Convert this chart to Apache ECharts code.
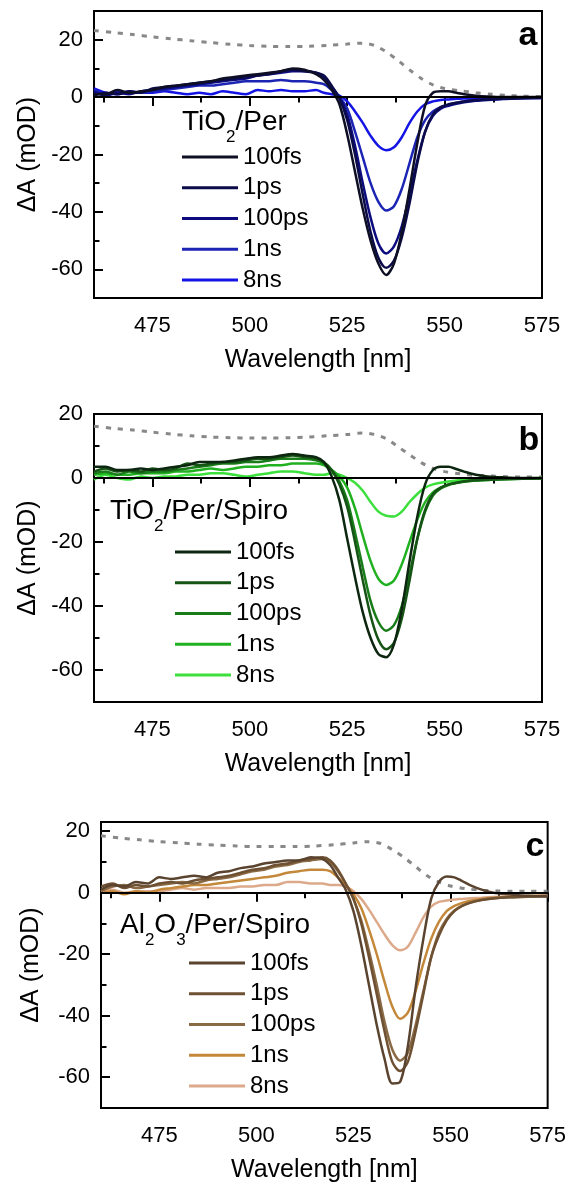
<!DOCTYPE html>
<html>
<head>
<meta charset="utf-8">
<script src="https://cdn.jsdelivr.net/npm/echarts@6/dist/echarts.min.js"></script>
<style>
  html, body { margin: 0; padding: 0; background: #fff; }
  #app { width: 569px; height: 1186px; }
</style>
</head>
<body>
<div id="app"></div>
<script>
// shared wavelength grid (nm) for the transient spectra
const wl = [460, 463, 466, 469, 472, 475, 478, 481, 484, 487, 490, 493, 496, 499, 502, 505, 508, 511, 514, 517,
  519, 521, 523, 525, 527, 529, 531, 533, 535, 537, 539, 541, 543, 545, 547, 549, 551, 553, 555, 558, 561, 565, 570, 575];
// wavelength grid for the dotted (steady state) curves
const dotWl = [460, 465, 470, 475, 480, 485, 490, 495, 500, 505, 510, 515, 520, 525, 529, 532, 535, 538, 541, 544,
  547, 550, 554, 558, 562, 566, 570, 575];

const delays = ['100fs', '1ps', '100ps', '1ns', '8ns'];
const xTicks = [475, 500, 525, 550, 575];
const xMinorTicks = [462.5, 487.5, 512.5, 537.5, 562.5];
const yTicks = [-60, -40, -20, 0, 20];
const yMinorTicks = [-50, -30, -10, 10];

// a) TiO2/Per
const aFs100 = [1, 1, 2.5, 1.5, 2, 2.5, 3.5, 4, 4.5, 5, 5.5, 6.5, 7, 7.5, 8, 8.5, 9, 10, 9.5, 8,
  6, 2.5, -2.5, -13, -26, -39, -50, -58, -62, -58, -47, -32, -16, -3, 1.5, 2, 2, 1.5, 1, 0.5, 0.2, 0, 0, 0];
const aPs1 = [0.5, 1.5, 1, 2, 1.5, 3, 3.5, 4, 4.5, 5, 5.5, 6, 6.5, 7, 7.5, 8, 9, 9.5, 9, 8.5,
  7.5, 4, -0.5, -8, -20, -34, -47, -56, -59.5, -57, -49, -37, -23, -12, -6, -3.5, -2.5, -2, -1.5, -1, -0.8, -0.5, -0.3, -0.2];
const aPs100 = [2, 0.5, 1.5, 1, 2, 2.5, 3, 3.5, 4, 4.5, 5, 5.5, 6, 6.5, 7.5, 8, 8.5, 9, 9, 8.5,
  7, 3.5, 0, -6, -17, -30, -42, -51, -54.5, -52, -45, -34, -22, -12, -6.5, -4, -3, -2.3, -1.8, -1.3, -1, -0.7, -0.4, -0.3];
const aNs1 = [2.5, 1, 2, 1.5, 1.5, 2, 2.5, 3, 3.5, 4, 4, 4.5, 5, 5.5, 5.5, 5.5, 6, 5.5, 5.5, 5,
  4.5, 2.5, 0, -4, -12, -21, -30, -36.5, -39.5, -38, -32, -23, -14, -8, -5, -3.5, -2.7, -2, -1.5, -1.1, -0.8, -0.6, -0.4, -0.3];
const aNs8 = [3, 1.5, 1, 2, 1.5, 1.5, 2, 1.5, 1, 1.5, 1, 2, 1.5, 1, 2.5, 2, 2.5, 2, 2, 2.5,
  1.5, 1, 0.5, -1.5, -5, -9, -13.5, -17, -18.5, -17.5, -14, -9, -5, -2.5, -1.5, -1, -0.8, -0.6, -0.5, -0.4, -0.3, -0.2, -0.2, -0.1];
const aDot = [23.2, 22.5, 21.8, 21, 20.3, 19.6, 19, 18.4, 18, 17.7, 17.6, 17.7, 18, 18.5, 18.8, 18, 15.8, 12.8, 9.5, 6.5,
  4.3, 3, 2.2, 1.5, 1, 0.6, 0.3, 0.2];

// b) TiO2/Per/Spiro
const bFs100 = [3.5, 3.5, 2.5, 2.5, 3, 2.5, 3, 3.5, 4, 5, 5, 5, 5.5, 6, 6.5, 6.5, 7, 7.5, 7, 6.5,
  5, 0.5, -7, -19, -31, -42, -50, -55, -56, -52, -41, -26, -12, -2, 2.5, 3.5, 3.5, 2.8, 2, 1, 0.5, 0.2, 0, 0];
const bPs1 = [2, 3, 2, 2.5, 2, 3, 2.5, 3, 4.5, 4, 4.5, 5, 5, 5.5, 6, 6, 6.5, 7, 6.5, 6,
  5, 2.5, -2, -9, -20, -32, -43, -50.5, -53.5, -51.5, -44, -32, -19, -10, -5, -3, -2, -1.5, -1, -0.7, -0.5, -0.3, -0.2, -0.1];
const bPs100 = [1.5, 2, 1, 2, 1.5, 2, 2, 2.5, 3, 3.5, 4, 4.5, 4.5, 5, 5, 5.5, 6, 6, 6, 5.5,
  4.5, 2.5, -1, -7, -17, -28, -38.5, -45, -47.7, -46, -40, -30, -19, -10.5, -5.5, -3.3, -2.2, -1.6, -1.2, -0.8, -0.6, -0.4, -0.2, -0.1];
const bNs1 = [1, 1.5, 1, 1, 1.5, 1.5, 1.5, 2, 2, 2.5, 3, 2.5, 3, 3.5, 3.5, 4, 4, 4.5, 4.5, 4.5,
  4, 2.5, 0.5, -3, -9.5, -18, -26, -31.5, -33.4, -32, -27, -20, -13, -7.5, -4.5, -3, -2, -1.5, -1.1, -0.8, -0.6, -0.4, -0.2, -0.1];
const bNs8 = [-0.5, 1, 0, -0.5, 0.5, 0, 0.5, 0.5, 1, 1, 1.5, 1.5, 1, 0.5, 1, 1.5, 2, 2, 1.5, 1,
  1, 1.5, 1, 0, -1.5, -4, -7.5, -10.5, -11.8, -12, -10.5, -7.5, -5, -3, -2, -1.5, -1.1, -0.8, -0.6, -0.4, -0.3, -0.2, -0.1, 0];
const bDot = [16.2, 15.5, 15, 14.3, 13.7, 13.2, 12.8, 12.6, 12.5, 12.5, 12.6, 12.8, 13.2, 13.6, 14.1, 13.6, 12.3, 9.8, 7.3, 4.8,
  3, 2, 1.3, 0.8, 0.6, 0.4, 0.3, 0.3];

// c) Al2O3/Per/Spiro
const cFs100 = [1, 2.5, 2, 3.5, 3, 5, 4.5, 5, 5.5, 5, 6.5, 7, 8, 8.5, 9.5, 10, 10.5, 10.5, 11.5, 11,
  9, 5, 1, -6, -17, -30, -43, -54, -62, -61.5, -50, -31, -15, -2, 3.5, 5.3, 5, 3.8, 2.5, 1, 0, -0.5, -1, -1.2];
const cPs1 = [2, 3, 1.5, 2.5, 2, 3, 3.5, 3, 4, 4.5, 5, 5.5, 6.5, 7.5, 8, 9, 9.5, 10.5, 11, 11.5,
  10.5, 7.5, 3, -2, -10, -21, -33, -45, -55, -58, -55, -45, -33, -21, -14, -9, -6, -4.3, -3.3, -2.4, -1.9, -1.5, -1.2, -1];
const cPs100 = [0.5, 2, 2.5, 1.5, 2, 2.5, 3, 3.5, 3, 4, 4.5, 5, 6, 7, 7.5, 8.5, 9, 10, 10.5, 11,
  10, 7, 3, -2, -9, -19, -30, -42, -51, -54.6, -52, -43, -32, -21, -13, -8.5, -5.8, -4.2, -3.2, -2.3, -1.8, -1.5, -1.3, -1.2];
const cNs1 = [0, 0.5, -0.5, 0.5, 0, 1, 1.5, 2, 2.5, 2.5, 3, 3.5, 4, 4.5, 5, 5.5, 6.5, 7, 7.5, 7.5,
  7, 5, 2.5, -0.5, -5, -12, -20, -29, -37, -41, -39, -32, -23, -15, -9.5, -6, -4.3, -3.3, -2.6, -2, -1.6, -1.3, -1.1, -1];
const cNs8 = [0.5, 1, 0, 0.5, 0.5, 0.5, 1, 1.5, 1, 1.5, 1.5, 1.5, 2, 2, 2.5, 2.5, 3.5, 3.5, 3, 3,
  2.5, 2.5, 2, 0.5, -2, -5.5, -9.5, -13.5, -17, -18.7, -17.5, -13, -8, -4.5, -3, -2.5, -2.2, -2, -1.8, -1.6, -1.4, -1.2, -1, -0.9];
const cDot = [18.5, 17.8, 17.2, 16.6, 16.2, 15.8, 15.5, 15.2, 15, 15, 15, 15.2, 15.6, 16.2, 16.6, 16, 14, 11.5, 8.5, 5.5,
  3.5, 2.2, 1.3, 0.8, 0.6, 0.5, 0.5, 0.5];

const FONT = 'Arial, "Liberation Sans", sans-serif';

const panels = [
  {
    key: 'a', letter: 'a', series: [aFs100, aPs1, aPs100, aNs1, aNs8], dot: aDot,
    colors: ['#0e0e24', '#0b0b4a', '#0c0c7e', '#1c24b4', '#1414e4'],
    grid: { left: 94, top: 11, width: 448, height: 287 }, ymax: 30, yNameGap: 50,
    legend: { left: 177, top: 140 }, title: { x: 182, y: 107, text: '{n|TiO}{s|2}{n|/Per}' },
    letterPos: [528, 36]
  },
  {
    key: 'b', letter: 'b', series: [bFs100, bPs1, bPs100, bNs1, bNs8], dot: bDot,
    colors: ['#0c2610', '#155415', '#187c18', '#20b020', '#3ce03c'],
    grid: { left: 94, top: 414, width: 448, height: 288 }, ymax: 20, yNameGap: 50,
    legend: { left: 170, top: 535 }, title: { x: 110, y: 496, text: '{n|TiO}{s|2}{n|/Per/Spiro}' },
    letterPos: [529, 441]
  },
  {
    key: 'c', letter: 'c', series: [cFs100, cPs1, cPs100, cNs1, cNs8], dot: cDot,
    colors: ['#5a4430', '#6e5033', '#8a6a45', '#c4883a', '#dcaa8a'],
    grid: { left: 101, top: 822, width: 450, height: 286 }, ymax: 23, yNameGap: 57,
    legend: { left: 184, top: 946 }, title: { x: 120, y: 910, text: '{n|Al}{s|2}{n|O}{s|3}{n|/Per/Spiro}' },
    letterPos: [535, 847]
  }
];

const pairs = (xs, ys) => xs.map((x, i) => [x, ys[i]]);

const grid = [];
const xAxis = [];
const yAxis = [];
const series = [];
const legend = [];
const graphic = [];

panels.forEach((p, i) => {
  grid.push(Object.assign({ show: true, borderColor: '#000', borderWidth: 2 }, p.grid));

  // main x axis + minor tick axis
  xAxis.push({
    type: 'value', gridIndex: i, min: 460, max: 575, position: 'bottom',
    axisLine: { lineStyle: { color: '#000', width: 2 } },
    axisTick: { customValues: xTicks, length: 9, lineStyle: { color: '#000', width: 2 } },
    axisLabel: { customValues: xTicks, fontSize: 22, fontFamily: FONT, color: '#000', margin: 17 },
    splitLine: { show: false },
    name: 'Wavelength [nm]', nameLocation: 'middle', nameGap: 50,
    nameTextStyle: { fontSize: 25, fontFamily: FONT, color: '#000' }
  });
  xAxis.push({
    type: 'value', gridIndex: i, min: 460, max: 575, position: 'bottom',
    axisLine: { show: false },
    axisTick: { customValues: xMinorTicks, length: 5.5, lineStyle: { color: '#000', width: 2 } },
    axisLabel: { show: false },
    splitLine: { show: false }
  });

  yAxis.push({
    type: 'value', gridIndex: i, min: -70, max: p.ymax, position: 'left',
    axisLine: { show: true, lineStyle: { color: '#000', width: 2 } },
    axisTick: { show: true, inside: true, customValues: yTicks, length: 9, lineStyle: { color: '#000', width: 2 } },
    axisLabel: { customValues: yTicks, fontSize: 22, fontFamily: FONT, color: '#000', margin: 11 },
    splitLine: { show: false },
    name: 'ΔA (mOD)', nameLocation: 'middle', nameGap: p.yNameGap, nameRotate: 90,
    nameTextStyle: { fontSize: 25, fontFamily: FONT, color: '#000' }
  });
  yAxis.push({
    type: 'value', gridIndex: i, min: -70, max: p.ymax, position: 'left',
    axisLine: { show: false },
    axisTick: { show: true, inside: true, customValues: yMinorTicks, length: 5.5, lineStyle: { color: '#000', width: 2 } },
    axisLabel: { show: false },
    splitLine: { show: false }
  });

  // dotted steady-state curve, carries the zero line
  series.push({
    type: 'line', name: p.key + '|dot', xAxisIndex: 2 * i, yAxisIndex: 2 * i,
    data: pairs(dotWl, p.dot), showSymbol: false, smooth: 0.3,
    lineStyle: { color: '#888', width: 3, type: [5, 7] },
    markLine: {
      silent: true, symbol: ['none', 'none'], label: { show: false },
      lineStyle: { color: '#000', width: 2, type: 'solid' },
      data: [{ yAxis: 0 }]
    },
    z: 2
  });

  // draw the longest delay first so 100fs sits on top
  for (let k = delays.length - 1; k >= 0; k--) {
    series.push({
      type: 'line', name: p.key + '|' + delays[k], xAxisIndex: 2 * i, yAxisIndex: 2 * i,
      data: pairs(wl, p.series[k]), showSymbol: false, smooth: 0.3,
      color: p.colors[k],
      lineStyle: { color: p.colors[k], width: 2.5 },
      z: 3
    });
  }

  legend.push({
    orient: 'vertical', left: p.legend.left, top: p.legend.top,
    itemWidth: 56, itemHeight: 3, itemGap: 6.75, icon: 'rect', selectedMode: false,
    itemStyle: { borderWidth: 0 },
    data: delays.map(d => p.key + '|' + d),
    formatter: n => n.split('|')[1],
    textStyle: { fontSize: 24, fontFamily: FONT, color: '#000', lineHeight: 24 }
  });

  graphic.push({
    type: 'text', x: p.title.x, y: p.title.y,
    style: {
      text: p.title.text, align: 'left', verticalAlign: 'top',
      rich: {
        n: { fontSize: 28, fontFamily: FONT, fill: '#000', lineHeight: 30 },
        s: { fontSize: 17, fontFamily: FONT, fill: '#000', lineHeight: 30, padding: [31, 0, 0, 0] }
      }
    }
  });
  graphic.push({
    type: 'text', x: p.letterPos[0], y: p.letterPos[1],
    style: {
      text: p.letter, font: 'bold 34px ' + FONT, fill: '#000',
      align: 'center', verticalAlign: 'middle', textAlign: 'center', textVerticalAlign: 'middle'
    }
  });
});

const myChart = echarts.init(document.getElementById('app'));
myChart.setOption({
  animation: false,
  backgroundColor: '#fff',
  grid: grid,
  xAxis: xAxis,
  yAxis: yAxis,
  legend: legend,
  series: series,
  graphic: graphic
});
</script>
</body>
</html>
